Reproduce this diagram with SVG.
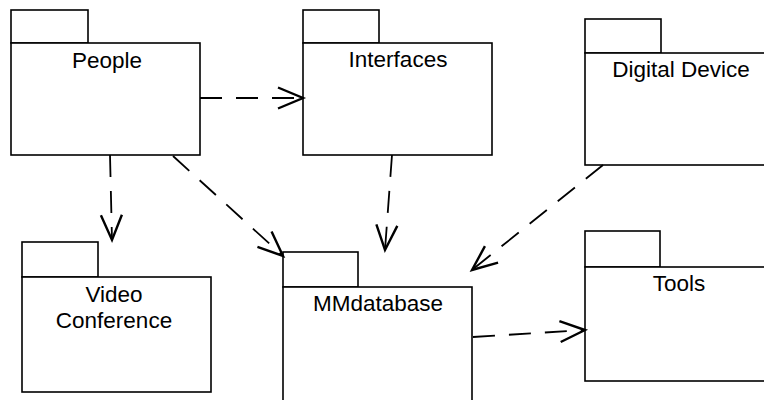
<svg xmlns="http://www.w3.org/2000/svg" width="764" height="400" viewBox="0 0 764 400">
<defs>
<style>
.box{fill:#fff;stroke:#000;stroke-width:1.6}
.lbl{font-family:"Liberation Sans",Arial,sans-serif;font-size:22.5px;fill:#000;text-anchor:middle}
.dep{fill:none;stroke:#000;stroke-width:1.8;stroke-dasharray:22 14}
</style>
<marker id="open" markerUnits="userSpaceOnUse" viewBox="-26 -12 28 24" refX="0" refY="0" markerWidth="28" markerHeight="24" orient="auto" overflow="visible">
<path d="M-25,-10.5 L0,0 L-25,10.5" fill="none" stroke="#000" stroke-width="2.4"/>
</marker>
</defs>
<rect width="764" height="400" fill="#fff"/>
<g id="people">
<rect class="box" x="11" y="10" width="77" height="33"/>
<rect class="box" x="11" y="43" width="189" height="112"/>
<text class="lbl" x="107" y="68">People</text>
</g>
<g id="interfaces">
<rect class="box" x="303" y="10" width="76" height="33"/>
<rect class="box" x="303" y="43" width="189" height="112"/>
<text class="lbl" x="398" y="67">Interfaces</text>
</g>
<g id="digital-device">
<rect class="box" x="585" y="19" width="76" height="34"/>
<rect class="box" x="585" y="53" width="200" height="112"/>
<text class="lbl" x="681" y="77">Digital Device</text>
</g>
<g id="video-conference">
<rect class="box" x="22" y="242" width="76" height="35"/>
<rect class="box" x="22" y="277" width="189" height="115"/>
<text class="lbl" x="114" y="302">Video</text>
<text class="lbl" x="114" y="328">Conference</text>
</g>
<g id="mmdatabase">
<rect class="box" x="283" y="252" width="75" height="35"/>
<rect class="box" x="283" y="287" width="189" height="130"/>
<text class="lbl" x="378" y="311">MMdatabase</text>
</g>
<g id="tools">
<rect class="box" x="585" y="231" width="75" height="36"/>
<rect class="box" x="585" y="267" width="200" height="114"/>
<text class="lbl" x="679" y="291">Tools</text>
</g>
<g id="connectors">
<path class="dep" d="M200,98 L303,98" marker-end="url(#open)"/>
<path class="dep" d="M110,155 L112,240" marker-end="url(#open)"/>
<path class="dep" d="M173,156 L283,256" marker-end="url(#open)"/>
<path class="dep" d="M392,155 L385,250" marker-end="url(#open)"/>
<path class="dep" d="M603,165 L472,270" marker-end="url(#open)"/>
<path class="dep" d="M473,337 L585,330" marker-end="url(#open)"/>
</g>
</svg>
